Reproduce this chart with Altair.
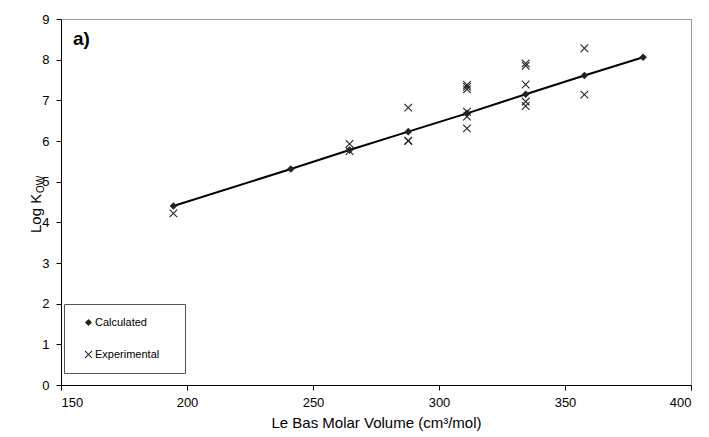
import altair as alt
import pandas as pd

# Calculated values (diamonds + line)
calc_x = [194.6, 241.2, 264.5, 287.8, 311.1, 334.4, 357.7, 381.0]
calc_y = [4.40, 5.31, 5.78, 6.23, 6.68, 7.15, 7.61, 8.06]

# Experimental values (crosses)
exp_x = [194.6, 264.5, 264.5, 287.8, 287.8, 287.8,
         311.1, 311.1, 311.1, 311.1, 311.1, 311.1,
         334.4, 334.4, 334.4, 334.4, 334.4,
         357.7, 357.7]
exp_y = [4.22, 5.93, 5.75, 6.82, 6.01, 6.00,
         7.38, 7.33, 7.27, 6.72, 6.60, 6.31,
         7.91, 7.85, 7.39, 6.97, 6.86,
         8.28, 7.14]

x_ticks = [150, 200, 250, 300, 350, 400]
y_ticks = [0, 1, 2, 3, 4, 5, 6, 7, 8, 9]

series_names = ["Calculated", "Experimental"]

calc_df = pd.DataFrame({"x": calc_x, "y": calc_y, "series": series_names[0]})
exp_df = pd.DataFrame({"x": exp_x, "y": exp_y, "series": series_names[1]})
all_df = pd.concat([calc_df, exp_df], ignore_index=True)

FONT = "Liberation Sans"

xscale = alt.Scale(domain=[150, 400], nice=False, zero=False)
yscale = alt.Scale(domain=[0, 9], nice=False)

xenc = alt.X("x:Q", scale=xscale,
             axis=alt.Axis(values=x_ticks, title="Le Bas Molar Volume (cm³/mol)"))
yenc = alt.Y("y:Q", scale=yscale, axis=alt.Axis(values=y_ticks, title=None))

line = alt.Chart(calc_df).mark_line(color="black", strokeWidth=2).encode(x=xenc, y=yenc)

diamond_path = "M0,-1L1,0L0,1L-1,0Z"
# thin filled "x" shape (two diagonal bars, same winding)
cross_path = ("M-0.9,-1.1L1.1,0.9L0.9,1.1L-1.1,-0.9Z"
              "M-1.1,0.9L0.9,-1.1L1.1,-0.9L-0.9,1.1Z")

# trailing spaces (kept by a zero-width char) widen the legend box
pad = " " * 4 + "\u200b"

points = alt.Chart(all_df).mark_point(
    filled=True, color="#222222", opacity=1, size=58
).encode(
    x=xenc,
    y=yenc,
    shape=alt.Shape(
        "series:N",
        scale=alt.Scale(domain=series_names, range=[diamond_path, cross_path]),
        legend=alt.Legend(
            title=None,
            orient="none",
            legendX=3,
            legendY=285,
            direction="vertical",
            strokeColor="#555555",
            fillColor="white",
            padding=13,
            rowPadding=20,
            symbolOffset=6,
            labelOffset=1,
            labelFont=FONT,
            labelFontSize=11,
            labelColor="black",
            symbolSize=50,
            symbolFillColor="#222222",
            symbolStrokeWidth=0,
            labelExpr="datum.label + '" + pad + "'",
        ),
    ),
)

label_a = alt.Chart(pd.DataFrame({"t": ["a)"]})).mark_text(
    font=FONT, fontSize=19, fontWeight="bold", align="left", baseline="alphabetic", color="black"
).encode(text="t:N", x=alt.value(12), y=alt.value(26))

ytitle_main = alt.Chart(pd.DataFrame({"t": ["Log K"]})).mark_text(
    font=FONT, fontSize=15, angle=270, align="left", baseline="middle", color="black"
).encode(text="t:N", x=alt.value(-25), y=alt.value(214))

ytitle_sub = alt.Chart(pd.DataFrame({"t": ["OW"]})).mark_text(
    font=FONT, fontSize=10, angle=270, align="left", baseline="middle", color="black"
).encode(text="t:N", x=alt.value(-20), y=alt.value(174))

chart = alt.layer(line, points, label_a, ytitle_main, ytitle_sub).properties(
    width=630,
    height=366,
    autosize=alt.AutoSizeParams(type="none"),
    padding={"left": 61, "top": 19, "right": 18, "bottom": 52},
    background="white",
).configure_view(
    stroke="#999999", strokeWidth=1
).configure_axis(
    grid=False,
    domainColor="black",
    domainWidth=1,
    tickColor="black",
    tickSize=5,
    labelFont=FONT,
    labelFontSize=13,
    labelColor="black",
    labelPadding=6,
    titleFont=FONT,
    titleFontSize=15,
    titleFontWeight="normal",
    titleColor="black",
    titlePadding=6,
).configure_axisY(labelPadding=7)

chart.save("out.html", embed_options={"renderer": "svg", "actions": False})
